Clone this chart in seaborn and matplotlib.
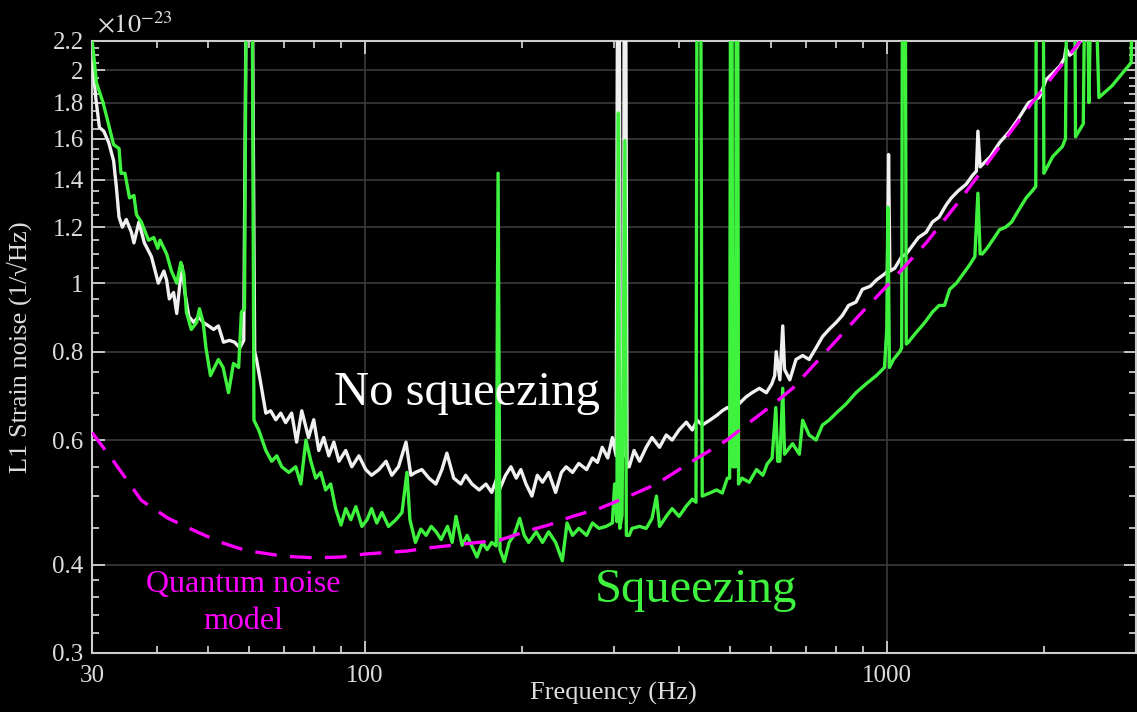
import pandas as pd
import seaborn as sns
import matplotlib.pyplot as plt
from matplotlib.ticker import NullFormatter

# ---- data (strain noise in units of 1e-23 / sqrt(Hz)) ----
# spikes that leave the plot are given the value 3.0 (clipped by the axes)
green_freq = [30, 30.6, 31.5, 32, 33, 33.8, 34.1, 34.7, 35.4, 36.1, 36.5, 37.3, 38.5, 39.4, 40.1, 40.5,
              41.7, 42.6, 43.6, 44.4, 45.0, 45.5, 46.5, 47.6, 48.2, 49.0, 49.6, 50.6, 52.4, 53.5, 54.8,
              56.0, 57.3, 58.0, 58.8, 59.3, 60.8, 61.3, 62.6, 64.6, 66.3, 67.8, 69.3, 71.5, 73.7, 75.4,
              77.1, 78.8, 80.5, 82.3, 84.1, 86.0, 87.9, 90.0, 91.9, 94.0, 96.1, 98.7, 101, 103, 105.4,
              107.8, 111, 114.7, 117.8, 120.4, 122, 125, 128, 131, 134, 137, 140, 144, 147, 149.5,
              153.6, 157, 160, 164, 168, 171.5, 175, 178.5, 180, 181.5, 185, 189, 193, 198, 202, 206,
              213, 219, 225, 232, 239, 244, 250, 257, 266, 273, 281, 290, 298, 301, 304, 306, 308,
              311, 315, 317, 321, 325, 336, 346, 355, 362, 367, 378, 388, 400, 413, 424, 431, 433,
              440, 443, 458, 472, 484, 495, 500, 502, 505, 507, 513, 515, 518, 520, 528, 545, 563,
              579, 590, 603, 613, 618, 624, 632, 637, 660, 680, 690, 710, 732, 753, 775, 800, 836,
              873, 912, 955, 990, 1000, 1005, 1012, 1030, 1059, 1068, 1072, 1085, 1090, 1100, 1136,
              1168, 1190, 1223, 1260, 1290, 1320, 1360, 1400, 1440, 1475, 1495, 1510, 1525, 1556,
              1595, 1645, 1690, 1735, 1780, 1850, 1900, 1930, 1935, 1995, 2000, 2080, 2170, 2200,
              2215, 2290, 2300, 2380, 2400, 2420, 2440, 2470, 2500, 2550, 2700, 2940, 2960, 3000]
green_val = [2.22, 1.92, 1.80, 1.72, 1.57, 1.55, 1.43, 1.43, 1.32, 1.33, 1.25, 1.22, 1.15, 1.16, 1.12, 1.15,
             1.10, 1.04, 1.00, 1.07, 1.03, 0.91, 0.86, 0.88, 0.92, 0.88, 0.81, 0.74, 0.78, 0.76, 0.70,
             0.77, 0.76, 0.91, 0.92, 3.0, 3.0, 0.64, 0.62, 0.58, 0.56, 0.57, 0.55, 0.54, 0.55, 0.52,
             0.60, 0.56, 0.53, 0.54, 0.51, 0.52, 0.48, 0.455, 0.48, 0.463, 0.483, 0.453, 0.463, 0.48, 0.458,
             0.474, 0.453, 0.463, 0.474, 0.54, 0.463, 0.43, 0.449, 0.44, 0.453, 0.445, 0.434, 0.453, 0.43, 0.468,
             0.426, 0.44, 0.426, 0.41, 0.43, 0.42, 0.43, 0.425, 1.43, 0.42, 0.404, 0.43, 0.44, 0.465, 0.44, 0.43,
             0.445, 0.43, 0.445, 0.43, 0.405, 0.458, 0.44, 0.45, 0.44, 0.458, 0.45, 0.453, 0.458, 0.52, 0.46, 1.74, 0.45,
             0.47, 1.59, 0.44, 0.44, 0.45, 0.453, 0.45, 0.465, 0.50, 0.453, 0.468, 0.48, 0.468, 0.484, 0.495, 0.49, 3.0,
             3.0, 0.50, 0.505, 0.51, 0.505, 0.53, 0.53, 3.0, 3.0, 0.55, 0.55, 3.0, 3.0, 0.52, 0.53, 0.523, 0.545,
             0.535, 0.555, 0.566, 0.667, 0.56, 0.56, 0.71, 0.573, 0.593, 0.573, 0.64, 0.61, 0.60, 0.63, 0.64, 0.655, 0.675,
             0.70, 0.72, 0.74, 0.76, 0.86, 1.28, 0.76, 0.78, 0.80, 0.81, 3.0, 3.0, 0.82, 0.825, 0.85,
             0.87, 0.885, 0.91, 0.93, 0.93, 0.98, 1.0, 1.03, 1.06, 1.09, 1.34, 1.10, 1.10, 1.12,
             1.15, 1.19, 1.20, 1.22, 1.26, 1.32, 1.35, 1.37, 3.0, 3.0, 1.43, 1.51, 1.56, 1.60,
             3.0, 3.0, 1.61, 1.68, 3.0, 3.0, 1.80, 3.0, 3.0, 1.83, 1.90, 2.05, 3.0, 3.0]

white_freq = [30, 30.3, 30.5, 31, 31.6, 32.3, 33.0, 33.4, 33.8, 34.3, 34.9, 35.7, 36.1, 36.9, 37.8, 39.0,
              40.2, 41.2, 41.7, 42.2, 43.0, 43.6, 44.6, 45.2, 46.0, 47.0, 48.0, 49.0, 50.2, 51.3, 52.4,
              53.6, 55.0, 56.3, 57.6, 58.6, 59.3, 60.8, 61.5, 62.0, 63.0, 64.6, 66.0, 67.5, 69.0, 70.5,
              72.4, 74.0, 75.7, 78.0, 79.8, 81.6, 83.4, 85.3, 87.2, 89.2, 91.9, 94.4, 97.4, 100.4, 103,
              106.4, 109.8, 112.6, 116, 119.9, 122.5, 125, 128.6, 132.7, 136.8, 140.5, 143.6, 148, 152.7,
              156, 160.4, 165.6, 170.6, 175, 179, 181, 186, 190.5, 195, 199, 203.6, 209, 214, 219, 225,
              232, 238, 243, 250, 257, 266, 273, 279, 285, 292, 298, 303, 305, 307, 309, 313, 314, 316,
              318, 321, 328, 336, 346, 355, 367, 378, 388, 400, 413, 424, 433, 443, 458, 472, 484, 495,
              506, 521, 537, 552, 570, 588, 602, 610, 614, 624, 632, 637, 652, 670, 690, 710, 732, 753,
              775, 800, 822, 845, 873, 898, 930, 955, 990, 1003, 1008, 1014, 1036, 1068, 1090, 1120,
              1150, 1190, 1223, 1260, 1300, 1330, 1370, 1420, 1460, 1485, 1495, 1510, 1580, 1645, 1720,
              1780, 1870, 1960, 2020, 2080, 2150, 2190, 2205, 2240, 2280, 2350, 2400]
white_val = [2.05, 1.94, 1.83, 1.66, 1.64, 1.58, 1.49, 1.37, 1.24, 1.20, 1.23, 1.18, 1.14, 1.22, 1.14, 1.09,
             1.00, 1.04, 1.01, 0.95, 0.97, 0.906, 1.06, 0.97, 0.897, 0.88, 0.897, 0.88, 0.87, 0.86, 0.87,
             0.825, 0.83, 0.825, 0.81, 0.83, 3.0, 3.0, 0.80, 0.78, 0.73, 0.655, 0.66, 0.641, 0.655, 0.635,
             0.655, 0.596, 0.66, 0.605, 0.641, 0.58, 0.605, 0.57, 0.596, 0.56, 0.58, 0.55, 0.57, 0.545, 0.535,
             0.545, 0.56, 0.535, 0.55, 0.596, 0.535, 0.54, 0.545, 0.53, 0.52, 0.545, 0.575, 0.53, 0.52,
             0.535, 0.52, 0.51, 0.52, 0.506, 0.53, 0.51, 0.535, 0.55, 0.53, 0.545, 0.52, 0.50, 0.535, 0.523, 0.54,
             0.506, 0.54, 0.55, 0.54, 0.556, 0.545, 0.566, 0.558, 0.586, 0.566, 0.605, 0.57, 3.0, 3.0, 0.56, 0.57, 3.0, 3.0,
             0.55, 0.55, 0.58, 0.56, 0.586, 0.605, 0.586, 0.61, 0.60, 0.62, 0.636, 0.62, 0.64, 0.63, 0.64, 0.65, 0.66, 0.667,
             0.66, 0.675, 0.69, 0.70, 0.71, 0.70, 0.72, 0.74, 0.80, 0.73, 0.87, 0.755, 0.73, 0.78, 0.79, 0.78, 0.81, 0.84,
             0.86, 0.88, 0.90, 0.93, 0.94, 0.98, 0.99, 1.01, 1.03, 1.04, 1.52, 1.04, 1.05, 1.09, 1.10, 1.13,
             1.16, 1.18, 1.22, 1.24, 1.29, 1.32, 1.35, 1.38, 1.42, 1.44, 1.64, 1.46, 1.51, 1.58, 1.64,
             1.70, 1.80, 1.83, 1.94, 1.98, 2.03, 2.08, 2.15, 2.10, 2.12, 2.20, 2.30]

model_freq = [30, 33, 37.3, 42, 48, 53, 59, 70, 80, 90, 100, 120, 135, 165, 181, 206, 225, 250, 281,
              321, 362, 424, 494, 545, 595, 660, 765, 885, 1025, 1190, 1370, 1530, 1900, 2350]
model_val = [0.615, 0.56, 0.493, 0.465, 0.444, 0.43, 0.419, 0.411, 0.409, 0.41, 0.414, 0.418, 0.423, 0.43,
             0.433, 0.447, 0.455, 0.468, 0.48, 0.50, 0.52, 0.56, 0.60, 0.635, 0.667, 0.71, 0.80, 0.90,
             1.01, 1.14, 1.30, 1.45, 1.80, 2.20]

y_major = [0.3, 0.4, 0.6, 0.8, 1, 1.2, 1.4, 1.6, 1.8, 2, 2.2]
y_labels = ['0.3', '0.4', '0.6', '0.8', '1', '1.2', '1.4', '1.6', '1.8', '2', '2.2']
x_major = [30, 100, 1000]
x_labels = ['30', '100', '1000']

green = pd.DataFrame({'freq': green_freq, 'val': green_val})
white = pd.DataFrame({'freq': white_freq, 'val': white_val})
model = pd.DataFrame({'freq': model_freq, 'val': model_val})

sns.set_theme(style='ticks')
plt.rcParams['font.family'] = ['Liberation Serif', 'DejaVu Serif']
plt.rcParams['mathtext.fontset'] = 'stix'

fg = '#dddddd'
green_c = '#3ef23e'
magenta = '#ff00ff'

fig = plt.figure(figsize=(11.37, 7.12), dpi=100, facecolor='black')
ax = fig.add_axes([0.0809, 0.0829, 0.918, 0.8596])
ax.set_facecolor('black')

sns.lineplot(data=white, x='freq', y='val', ax=ax, color='#f0f0f0', lw=2.4,
             estimator=None, sort=False, zorder=3)
sns.lineplot(data=green, x='freq', y='val', ax=ax, color=green_c, lw=2.4,
             estimator=None, sort=False, zorder=4)
sns.lineplot(data=model, x='freq', y='val', ax=ax, color=magenta, lw=2.4,
             estimator=None, sort=False, zorder=5, dashes=False)
ax.lines[-1].set_dashes((6.5, 4))

ax.set_xscale('log')
ax.set_yscale('log')
ax.set_xlim(30, 3000)
ax.set_ylim(0.3, 2.2)

ax.set_xticks(x_major)
ax.set_xticklabels(x_labels)
ax.set_xticks([40, 50, 60, 70, 80, 90, 200, 300, 400, 500, 600, 700, 800, 900, 2000], minor=True)
ax.xaxis.set_minor_formatter(NullFormatter())
ax.set_yticks(y_major)
ax.set_yticklabels(y_labels)
y_minor = [0.32, 0.34, 0.36, 0.38, 0.45, 0.5, 0.55, 0.65, 0.7, 0.75, 0.85, 0.9, 0.95, 1.05, 1.1,
           1.15, 1.25, 1.3, 1.35, 1.45, 1.5, 1.55, 1.65, 1.7, 1.75, 1.85, 1.9, 1.95, 2.05, 2.1, 2.15]
ax.set_yticks(y_minor, minor=True)
ax.yaxis.set_minor_formatter(NullFormatter())

ax.grid(True, which='major', color='#3a3a3a', lw=1.2, zorder=0)
ax.tick_params(which='both', direction='in', top=True, right=True, colors=fg,
               labelcolor=fg, width=1.2)
ax.tick_params(which='major', length=9, labelsize=18)
ax.tick_params(which='minor', length=5)
ax.tick_params(axis='x', pad=9)
ax.tick_params(axis='y', pad=6)
for s in ax.spines.values():
    s.set_color('#cccccc')
    s.set_linewidth(1.5)

ax.set_xlabel('Frequency (Hz)', color=fg, fontsize=19)
ax.set_ylabel('L1 Strain noise (1/\u221aHz)', color=fg, fontsize=19)
ax.xaxis.set_label_coords(0.5, -0.047)
ax.yaxis.set_label_coords(-0.057, 0.5)

ax.text(0.005, 1.013, r'$\times 10^{-23}$', transform=ax.transAxes, color=fg,
        fontsize=19, ha='left', va='baseline')

ax.text(157, 0.70, 'No squeezing', color='white', fontsize=35, ha='center', va='center', zorder=6)
ax.text(430, 0.368, 'Squeezing', color=green_c, fontsize=35, ha='center', va='center', zorder=6)
ax.text(58.6, 0.353, 'Quantum noise\nmodel', color=magenta, fontsize=23, ha='center',
        va='center', multialignment='center', linespacing=1.35, zorder=6)

plt.savefig('out.png', dpi=100, facecolor='black')
